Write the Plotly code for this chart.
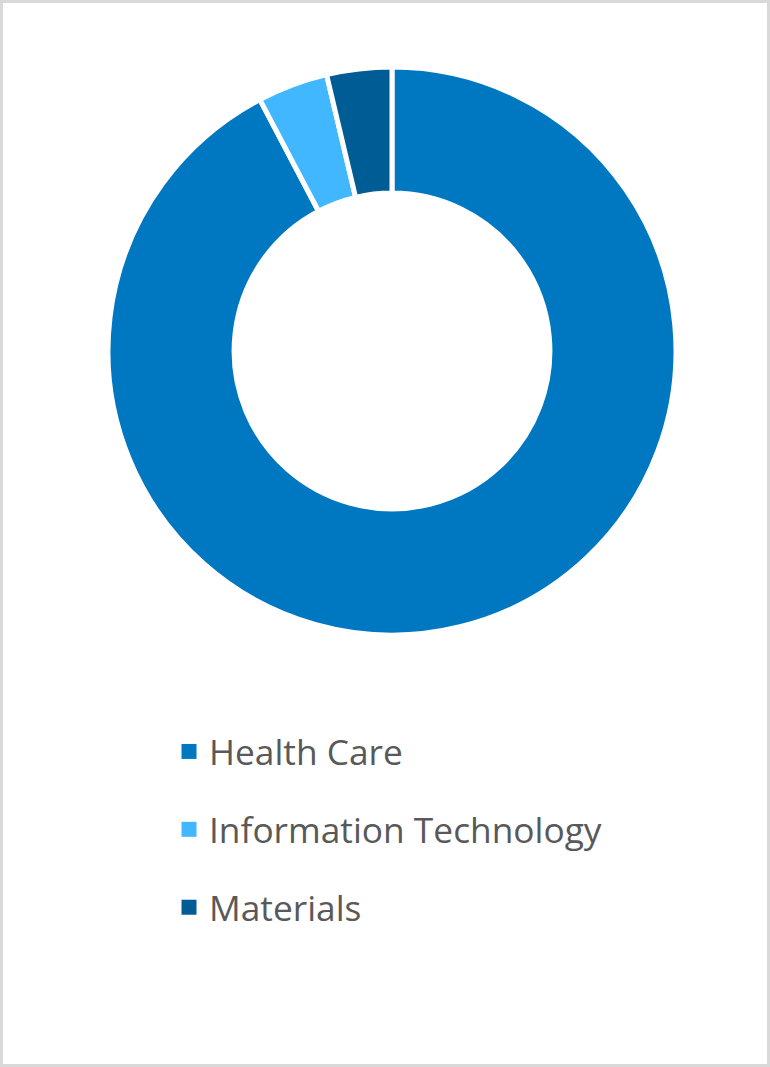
import plotly.graph_objects as go

categories = ["Health Care", "Information Technology", "Materials"]
values = [92.3, 4.0, 3.7]
colors = ["#0078C1", "#41B7FF", "#005C94"]

W, H = 770, 1067
cx, cy, r = 392, 351, 284

fig = go.Figure()
fig.add_trace(go.Pie(
    labels=categories, values=values, hole=0.556, sort=False,
    direction="clockwise", rotation=0,
    marker=dict(colors=colors, line=dict(color="white", width=5)),
    textinfo="none", showlegend=False,
    domain=dict(x=[(cx - r) / W, (cx + r) / W], y=[1 - (cy + r) / H, 1 - (cy - r) / H]),
))
for i, (c, col) in enumerate(zip(categories, colors)):
    fig.add_trace(go.Scatter(
        x=[None], y=[None], mode="markers", name=c, legendgroup=f"g{i}",
        marker=dict(symbol="square", size=15, color=col), showlegend=True,
    ))

fig.update_layout(
    width=W, height=H, margin=dict(l=0, r=0, t=0, b=0),
    paper_bgcolor="white", plot_bgcolor="white",
    xaxis=dict(visible=False), yaxis=dict(visible=False),
    showlegend=True,
    legend=dict(x=169 / W, y=1 - 722 / H, xanchor="left", yanchor="top",
                font=dict(family="Open Sans", size=35.3, color="#595959"),
                tracegroupgap=29, bgcolor="rgba(0,0,0,0)"),
    shapes=[dict(type="rect", xref="paper", yref="paper",
                 x0=1.5 / W, x1=1 - 1.5 / W, y0=1.5 / H, y1=1 - 1.5 / H,
                 line=dict(color="#D9D9D9", width=3))],
)
fig.write_html("out.html")
